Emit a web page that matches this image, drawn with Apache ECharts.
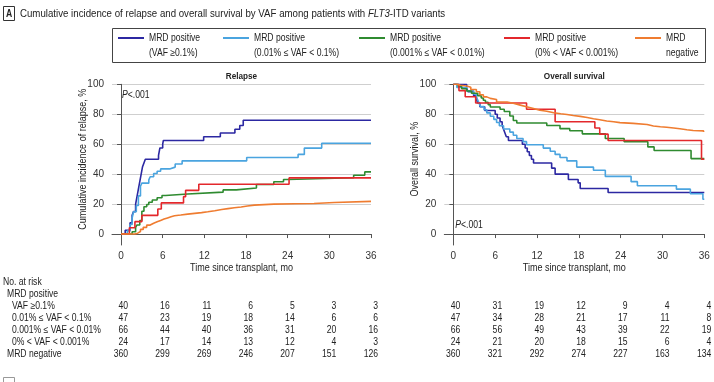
<!DOCTYPE html>
<html><head><meta charset="utf-8">
<script src="https://cdn.jsdelivr.net/npm/echarts@6/dist/echarts.min.js"></script>
<style>html,body{margin:0;padding:0;background:#fff}#c{width:714px;height:382px}</style>
</head><body><div id="c"></div>
<script>
const FONT = "'Liberation Sans',Arial,sans-serif";
const SX = 0.86;
const groupLabels = ['VAF ≥0.1%', '0.01% ≤ VAF < 0.1%', '0.001% ≤ VAF < 0.01%', '0% < VAF < 0.001%', 'MRD negative'];
const legendLine1 = ['MRD positive', 'MRD positive', 'MRD positive', 'MRD positive', 'MRD'];
const legendLine2 = ['(VAF ≥0.1%)', '(0.01% ≤ VAF < 0.1%)', '(0.001% ≤ VAF < 0.01%)', '(0% < VAF < 0.001%)', 'negative'];
const colors = ['#2c28a2', '#4aa4df', '#2f8b30', '#e3282c', '#ef7c30'];
const xTicks = [0, 6, 12, 18, 24, 30, 36];
const yTicks = [0, 20, 40, 60, 80, 100];
const atRiskTimes = [0, 6, 12, 18, 24, 30, 36];

// Cumulative incidence of relapse, % : [month, value]
const relapseVafHigh = [[0,0],[0.6,2.5],[1.3,7.5],[1.6,12.5],[1.8,15],[2.1,20],[2.3,25],[2.5,30],[2.7,35],[2.9,40],[3.1,45],[3.3,47.5],[3.5,50],[5.4,52.5],[5.6,57.5],[6.0,60],[6.1,62.5],[11.9,65],[14.3,67.5],[16.4,70],[17.1,72.5],[17.6,76],[36,76]];
const relapseVafMid = [[0,0],[0.9,2.1],[1.3,6.4],[1.6,10.6],[1.8,14.9],[2.2,19.1],[2.5,25.5],[2.8,31.9],[3.0,34],[4.0,36.2],[4.2,38.3],[4.7,40.4],[5.2,41.9],[5.7,43.5],[7.0,44.7],[7.8,46.8],[8.8,48.9],[18.1,51.1],[25.5,53.2],[26.4,57.4],[28.9,60.6],[36,60.6]];
const relapseVafLow = [[0,0],[1.6,1.5],[2.1,4.5],[2.3,6.1],[2.7,9.1],[3.0,15.2],[3.3,18.2],[3.7,19.7],[4.0,21.2],[4.5,22.7],[5.2,24.2],[5.9,25.8],[6.4,26.8],[9.6,28.0],[14.7,29.5],[16.6,30.8],[19.5,33.1],[22,34.9],[23.4,36.4],[24,37.6],[33.5,39.3],[35.1,41.5],[36,41.5]];
const relapseVafTrace = [[0,0],[1.2,4.2],[2.0,8.3],[3.0,12.5],[5.3,16.7],[5.8,20.8],[9.0,25],[9.3,29.2],[11.2,33.3],[24.2,37.5],[36,37.5]];
const relapseNegative = [[0,0],[2.0,0.6],[2.4,1.7],[2.8,3.1],[3.2,4.5],[3.7,6],[4.2,7.2],[4.7,8.2],[5.2,9.1],[5.7,10],[6.2,10.8],[6.7,11.6],[7.2,12.2],[7.7,12.7],[8.6,13.3],[9.6,13.8],[10.6,14.3],[11.6,14.9],[12.5,15.6],[13.5,16.4],[14.5,17],[15.4,17.6],[16.3,18.1],[17.3,18.7],[18.2,19.3],[19.2,20],[22,20.2],[25,20.4],[27.8,21.1],[30.7,21.8],[36,21.8]];

// Overall survival, % : [month, value]
const osVafHigh = [[0,100],[1.9,97.5],[2.1,95],[2.9,92.5],[3.3,90],[3.5,87.5],[3.8,85],[4.5,82.5],[6.0,80],[6.3,77.5],[6.7,75],[7.0,72.5],[7.2,70],[7.4,67.5],[7.6,65],[7.9,62.5],[9.9,60],[10.3,57.5],[10.6,55],[10.9,52.5],[11.2,50],[11.5,47.5],[14.1,44],[14.6,40],[16.5,36.4],[17.9,34.2],[18.2,30.4],[22.2,27.8],[36,27.8]];
const osVafMid = [[0,100],[0.5,97.9],[1.9,95.7],[2.9,93.6],[3.3,91.5],[3.5,89.4],[3.7,87.2],[3.9,85.1],[4.4,83],[4.8,80.9],[5.3,78.7],[5.8,76.6],[6.2,74.5],[6.6,72.3],[7.2,70.2],[8.1,68.1],[8.6,66],[9.1,63.8],[10.0,61.7],[10.5,59.6],[12.9,57.4],[13.9,55.3],[14.6,53.2],[15.3,51.1],[16.3,48.9],[17.7,44.7],[20.1,42.6],[21.8,38.5],[25.5,35],[26.4,32.3],[32,30],[34,26.9],[35.8,23.2],[36,23.2]];
const osVafLow = [[0,100],[0.7,98.5],[1.2,97],[1.9,95.5],[2.6,94],[3.5,92.4],[4.0,90.9],[4.3,89.4],[4.6,87.9],[5.0,86.4],[5.3,84.8],[6.7,83.3],[7.3,81.8],[8.1,78.8],[8.6,75.8],[9.1,74.2],[13.4,72.5],[15.3,70.4],[16.7,69],[18.5,66.9],[21.8,63.8],[24.5,61.6],[27.9,58.2],[28.8,55.8],[34.1,50.4],[36,50.4]];
const osVafTrace = [[0,100],[0.8,95.8],[1.7,91.7],[3.2,87.5],[10.5,83.3],[14.6,75],[20.3,70.8],[21,66.7],[22.2,62.5],[35.6,50],[36,50]];
const osNegative = [[0,100],[0.5,99.4],[1.0,98.9],[1.9,98],[2.5,96.5],[3.3,95],[3.8,93],[4.3,91.6],[4.8,90.6],[5.3,89.8],[6.2,88.2],[7.7,87.3],[8.6,86.1],[9.6,85],[10.5,83.8],[11.5,82.7],[12.4,82],[13.4,81],[14.4,80.3],[15.4,79.8],[16.3,79.2],[17.2,78.6],[18.2,77.8],[19.2,77],[20.1,76.3],[21,75.5],[22,75],[23,74.4],[23.9,73.9],[25.8,73.2],[27.8,72.2],[28.7,71.7],[29.7,71.3],[30.6,70.8],[31.6,70.3],[32.5,69.7],[33.5,69.2],[34.4,68.9],[35.9,68.2],[36,68.2]];

// Number at risk
const relapseAtRisk = [[40,16,11,6,5,3,3],[47,23,19,18,14,6,6],[66,44,40,36,31,20,16],[24,17,14,13,12,4,3],[360,299,269,246,207,151,126]];
const osAtRisk = [[40,31,19,12,9,4,4],[47,34,28,21,17,11,8],[66,56,49,43,39,22,19],[24,21,20,18,15,6,4],[360,321,292,274,227,163,134]];

const relapseSeries = [relapseVafHigh, relapseVafMid, relapseVafLow, relapseVafTrace, relapseNegative];
const osSeries = [osVafHigh, osVafMid, osVafLow, osVafTrace, osNegative];

const chart = echarts.init(document.getElementById('c'), null, {renderer: 'canvas'});

function xAxisCfg(gi) {
  return {
    type: 'value', gridIndex: gi, min: -1.3, max: 36,
    axisLine: {show: true, lineStyle: {color: '#555', width: 1}},
    axisTick: {show: true, customValues: xTicks, length: 4, lineStyle: {color: '#555'}},
    axisLabel: {customValues: xTicks, color: '#333', fontSize: 10, fontFamily: FONT, margin: 6},
    splitLine: {show: false}
  };
}
function yAxisCfg(gi) {
  return {
    type: 'value', gridIndex: gi, min: -7.3, max: 100,
    axisLine: {show: true, lineStyle: {color: '#555', width: 1}},
    axisTick: {show: true, customValues: yTicks, length: 4, lineStyle: {color: '#555'}},
    axisLabel: {customValues: yTicks, color: '#333', fontSize: 10, fontFamily: FONT, margin: 8},
    splitLine: {show: true, lineStyle: {color: '#cfcfcf', width: 1}}
  };
}
function mkSeries(list, gi) {
  return list.map((d, i) => ({
    type: 'line', name: groupLabels[i], xAxisIndex: gi, yAxisIndex: gi,
    data: d, step: 'end', showSymbol: false, symbol: 'none', animation: false,
    lineStyle: {color: colors[i], width: 1.6}, itemStyle: {color: colors[i]}, z: 3 + i
  }));
}

chart.setOption({
  animation: false,
  backgroundColor: '#fff',
  grid: [
    {left: 112, right: 343, top: 84.3, bottom: 137},
    {left: 444.3, right: 9.7, top: 84.3, bottom: 137}
  ],
  xAxis: [xAxisCfg(0), xAxisCfg(1)],
  yAxis: [yAxisCfg(0), yAxisCfg(1)],
  series: mkSeries(relapseSeries, 0).concat(mkSeries(osSeries, 1))
});

// texts and table
const g = [];
const TXT = '#222';
function text(x, y, s, opt, extra) {
  g.push(Object.assign({type: 'text', x: x, y: y, scaleX: SX, silent: true,
    style: Object.assign({text: s, fill: TXT, font: '10px ' + FONT, textAlign: 'left', textVerticalAlign: 'middle'}, opt || {})}, extra || {}));
}
// Figure label and title
g.push({type: 'rect', shape: {x: 3.5, y: 6.5, width: 11, height: 14}, style: {fill: '#fff', stroke: '#333', lineWidth: 1}});
text(9, 14, 'A', {textAlign: 'center', font: 'bold 10px ' + FONT});
text(20, 14, 'Cumulative incidence of relapse and overall survival by VAF among patients with {i|FLT3}-ITD variants',
  {rich: {i: {font: 'italic 11px ' + FONT, fill: TXT}}, font: '11px ' + FONT}, {scaleX: 0.88});

// Legend
g.push({type: 'rect', shape: {x: 112.5, y: 28.5, width: 593, height: 34}, style: {fill: 'none', stroke: '#444', lineWidth: 1}});
const legX = [118, 223, 359, 504, 635];
legX.forEach((x, i) => {
  g.push({type: 'line', shape: {x1: x, y1: 38, x2: x + 26, y2: 38}, style: {stroke: colors[i], lineWidth: 2}});
  text(x + 31, 38, legendLine1[i]);
  text(x + 31, 53, legendLine2[i]);
});

// Panel titles, axis names, p-values
function px(gi, t, v) { return chart.convertToPixel({gridIndex: gi}, [t, v]); }
[['Relapse', 0], ['Overall survival', 1]].forEach(([s, gi]) => {
  const a = px(gi, -1.3, 100), b = px(gi, 36, 100);
  text((a[0] + b[0]) / 2, 76, s, {textAlign: 'center', font: 'bold 9.5px ' + FONT});
  text((a[0] + b[0]) / 2, 268, 'Time since transplant, mo', {textAlign: 'center', font: '10.5px ' + FONT});
});
[['Cumulative incidence of relapse, %', 0, 83], ['Overall survival, %', 1, 415]].forEach(([s, gi, x]) => {
  const top = px(gi, 0, 100)[1], bot = px(gi, 0, 0)[1];
  text(x, (top + bot) / 2, s, {textAlign: 'center', font: '10.5px ' + FONT}, {rotation: Math.PI / 2});
});
function pval(x, y) {
  text(x, y, '{i|P}<.001', {rich: {i: {font: 'italic 10px ' + FONT, fill: TXT}}});
}
pval(px(0, 0, 0)[0] + 1, 95);
pval(px(1, 0, 0)[0] + 2, 225);

// Number at risk table
const rowY = [306, 318, 330, 342, 354.5];
text(3, 282, 'No. at risk');
text(7, 294, 'MRD positive');
groupLabels.forEach((s, i) => text(i < 4 ? 12 : 7, rowY[i], s));
[[relapseAtRisk, 0], [osAtRisk, 1]].forEach(([tbl, gi]) => {
  tbl.forEach((row, r) => row.forEach((n, c) => {
    const x = px(gi, atRiskTimes[c], 0)[0] + 7;
    text(x, rowY[r], String(n), {textAlign: 'right'});
  }));
});
// next panel label (cut off at bottom)
g.push({type: 'rect', shape: {x: 3.5, y: 377.5, width: 11, height: 14}, style: {fill: '#fff', stroke: '#999', lineWidth: 1}});

chart.setOption({graphic: {elements: g}});
</script>
</body></html>
